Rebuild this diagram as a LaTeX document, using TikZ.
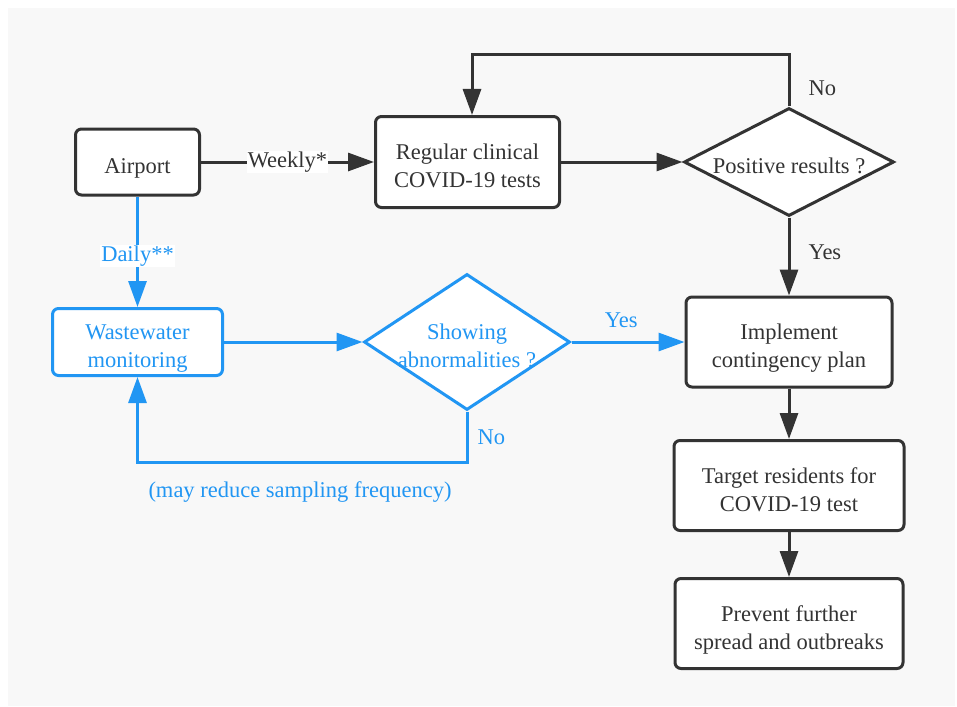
\documentclass[tikz,border=0pt]{standalone}
\usepackage{fontspec}
\setmainfont{Liberation Serif}
\usepackage{tikz}
\usetikzlibrary{arrows.meta,shapes.geometric}
\definecolor{LineGray}{HTML}{333333}
\definecolor{FlowBlue}{HTML}{2196F3}
\definecolor{PageGray}{HTML}{F8F8F8}
% box text sits a little below the middle of its box
\newcommand{\lowtext}[1]{\raisebox{-6pt}[\height][\depth]{\begin{tabular}{@{}c@{}}#1\end{tabular}}}

\begin{document}
\begin{tikzpicture}[x=1pt,y=-1pt,
  every node/.style={font=\fontsize{22.5}{28}\selectfont},
  procbox/.style={draw=LineGray, fill=white, line width=3pt, rounded corners=6pt,
    text=LineGray},
  bluebox/.style={procbox, draw=FlowBlue, text=FlowBlue},
  decision/.style={diamond, draw=LineGray, fill=white, line width=3pt, inner sep=0pt},
  flow/.style={LineGray, line width=3pt, -{Triangle[length=26pt,width=18pt]}},
  blueflow/.style={flow, FlowBlue},
  tag/.style={inner sep=1pt, text=LineGray}]
  \fill[PageGray] (8,8) rectangle (955,706);
  \useasboundingbox (0,0) rectangle (957,706);
  % black branch: clinical tests
  \node[procbox, minimum width=124pt, minimum height=66pt] (airport) at (137.5,162)
    {\lowtext{Airport}};
  \node[procbox, minimum width=184pt, minimum height=91pt] (clinical) at (467.5,162)
    {\lowtext{Regular clinical\\COVID-19 tests}};
  \node[decision, minimum width=210pt, minimum height=108pt,
    label={[text=LineGray, yshift=-4pt]center:Positive results ?}] (positive) at (789,162) {};
  \node[procbox, minimum width=206pt, minimum height=90pt] (contingency) at (789,342)
    {\lowtext{Implement\\contingency plan}};
  \node[procbox, minimum width=230pt, minimum height=90pt] (residents) at (789,485.5)
    {\lowtext{Target residents for\\COVID-19 test}};
  \node[procbox, minimum width=228pt, minimum height=90pt] (prevent) at (789,623.5)
    {\lowtext{Prevent further\\spread and outbreaks}};
  % blue branch: wastewater
  \node[bluebox, minimum width=170pt, minimum height=67pt] (wastewater) at (137.5,342)
    {\lowtext{Wastewater\\monitoring}};
  \node[decision, draw=FlowBlue, minimum width=206pt, minimum height=136pt,
    label={[text=FlowBlue, align=center, yshift=-4pt]center:{Showing\\abnormalities ?}}]
    (abnormal) at (467,342) {};
  \coordinate (loopTop) at (0,55);
  \coordinate (loopBot) at (0,462);

  \draw[flow] (airport) -- node[tag, fill=white] {Weekly*} (clinical);
  \draw[flow] (clinical) -- (positive);
  \draw[flow] (positive.north) -- node[tag, anchor=west, xshift=17pt, pos=0.35] {No}
    (positive.north |- loopTop) -| ([xshift=4.5pt]clinical.north);
  \draw[flow] (positive) -- node[tag, anchor=west, xshift=17pt, pos=0.45] {Yes} (contingency);
  \draw[flow] (contingency) -- (residents);
  \draw[flow] (residents) -- (prevent);

  \draw[blueflow] (airport) -- node[tag, fill=white, text=FlowBlue, pos=0.54] {Daily**} (wastewater);
  \draw[blueflow] (wastewater) -- (abnormal);
  \draw[blueflow] (abnormal) -- node[tag, text=FlowBlue, above=12pt, pos=0.44] {Yes} (contingency);
  \draw[blueflow] (abnormal.south) -- node[tag, text=FlowBlue, anchor=west, xshift=8pt] {No}
    (abnormal.south |- loopBot) -| (wastewater.south);
  \node[text=FlowBlue] (freqnote) at (300,492) {(may reduce sampling frequency)};
\end{tikzpicture}
\end{document}
